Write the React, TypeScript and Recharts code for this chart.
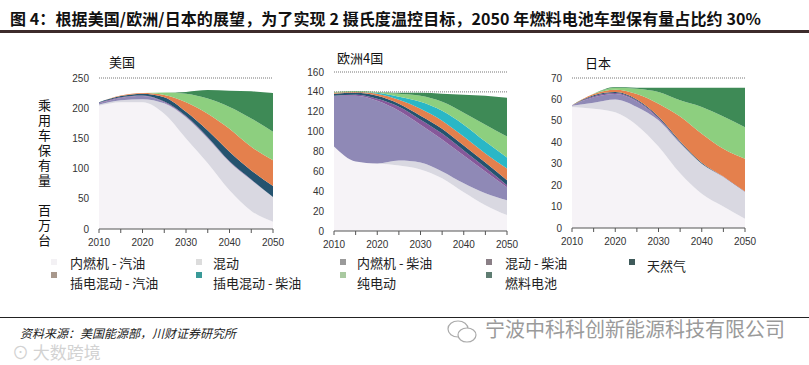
import { AreaChart, Area, XAxis, YAxis, ReferenceLine } from 'recharts';

const years = [2010, 2015, 2020, 2025, 2030, 2035, 2040, 2045, 2050];

const seriesNames = [
  '内燃机 - 汽油',
  '混动',
  '内燃机 - 柴油',
  '混动 - 柴油',
  '天然气',
  '插电混动 - 汽油',
  '插电混动 - 柴油',
  '纯电动',
  '燃料电池',
];

const areaColors = [
  '#f6f3f7',
  '#d9d8e1',
  '#8f89b6',
  '#86589a',
  '#25536f',
  '#e4804d',
  '#2ab7c6',
  '#8dcf7f',
  '#3e8a56',
];

// legend swatches look washed out in the source
const legendColors = [
  '#f3f1f4',
  '#dcdcdc',
  '#9a9a9a',
  '#8a7f86',
  '#3f5a5a',
  '#a8988c',
  '#3a9a98',
  '#a9c9a0',
  '#5f7d72',
];

// 美国
const usGasIce = [204, 210, 210, 191, 150, 109, 64, 30, 12];
const usHybrid = [2, 3, 5, 17, 35, 41, 47, 51, 41];
const usDieselIce = [2, 4, 5, 2, 1, 1, 0.5, 0.5, 0];
const usDieselHybrid = [1, 1, 1, 1, 1, 1, 0.5, 0.5, 0];
const usGas = [1, 2, 3, 7, 7, 11, 16, 15, 18];
const usPhevGas = [0, 1, 1, 4, 16, 28, 38, 39, 43];
const usPhevDiesel = [0, 0, 0, 0, 0, 0, 0, 0, 0];
const usBev = [0, 0, 0, 4, 14, 25, 36, 47, 47];
const usFcev = [0, 0, 0, 0, 3, 14, 27, 45, 64];

// 欧洲4国
const euGasIce = [85, 70, 68, 66, 62, 53, 39, 26, 16];
const euHybrid = [0, 0, 0, 5, 7, 7, 9, 12, 15];
const euDieselIce = [51, 66, 63, 50, 38, 32, 28, 22, 13];
const euDieselHybrid = [0, 1, 2, 4, 5, 6, 5, 4, 2];
const euGas = [2, 2, 3, 3, 4, 5, 5, 5, 5];
const euPhevGas = [1, 1, 2, 4, 7, 8, 9, 9, 12];
const euPhevDiesel = [0, 0, 1, 3, 7, 10, 12, 12, 11];
const euBev = [1, 1, 1, 3, 6, 9, 12, 17, 21];
const euFcev = [0, 0, 0, 1, 3, 8, 18, 29, 39];

// 日本
const jpGasIce = [56.5, 55.7, 54, 48, 38, 25.5, 16, 10, 4.3];
const jpHybrid = [0.5, 2.8, 6, 8.5, 12.3, 14, 14, 13.8, 12.5];
const jpDieselIce = [0.2, 2.5, 2.5, 2.5, 0.7, 0.5, 0, 0.2, 0.2];
const jpDieselHybrid = [0.1, 0.5, 0.5, 0.5, 0.5, 0, 0, 0, 0];
const jpGas = [0, 0.5, 0.5, 0.5, 0.5, 0.5, 0.5, 0, 0];
const jpPhevGas = [0, 0.5, 1, 2.5, 6, 11.5, 13.5, 13, 15.3];
const jpPhevDiesel = [0, 0, 0, 0, 0, 0, 0, 0, 0];
const jpBev = [0, 0.2, 1, 2.5, 5.5, 7.6, 12.5, 15, 14.7];
const jpFcev = [0, 0, 0.3, 0.5, 2, 5.9, 9, 13.5, 18.5];

const usTicks = [0, 50, 100, 150, 200, 250];
const euTicks = [0, 20, 40, 60, 80, 100, 120, 140, 160];
const jpTicks = [0, 10, 20, 30, 40, 50, 60, 70];

const axisFont = { fontSize: 10, fill: '#333', fontFamily: '"Liberation Sans", Arial, sans-serif' };
const cjk = '"Noto Sans CJK SC", "Noto Sans", sans-serif';

interface PanelProps {
  series: number[][];
  plotLeft: number;
  plotRight: number;
  plotTop: number;
  plotBottom: number;
  yMax: number;
  yTicks: number[];
  refLines: number[];
}

function Panel({ series, plotLeft, plotRight, plotTop, plotBottom, yMax, yTicks, refLines }: PanelProps) {
  const data = years.map((year, i) => {
    const row: Record<string, number> = { year };
    series.forEach((s, k) => {
      row['s' + k] = s[i];
    });
    return row;
  });
  const yw = 40;
  const mt = 10;
  const mr = 20;
  const xh = 30;
  const width = plotRight - plotLeft + yw + mr;
  const height = plotBottom - plotTop + mt + xh;
  return (
    <div style={{ position: 'absolute', left: plotLeft - yw, top: plotTop - mt }}>
      <AreaChart width={width} height={height} data={data} margin={{ top: mt, right: mr, bottom: 0, left: 0 }}>
        <XAxis
          dataKey="year"
          type="number"
          domain={[2010, 2050]}
          ticks={years}
          interval={0}
          tickFormatter={(v: number) => (v % 10 === 0 ? String(v) : '')}
          height={xh}
          axisLine={{ stroke: '#555' }}
          tickLine={{ stroke: '#555' }}
          tickSize={4}
          tickMargin={6}
          tick={axisFont}
        />
        <YAxis
          type="number"
          domain={[0, yMax]}
          ticks={yTicks}
          interval={0}
          width={yw}
          axisLine={false}
          tickLine={false}
          tickSize={0}
          tickMargin={10}
          tick={axisFont}
        />
        {series.map((_, k) => (
          <Area
            key={k}
            dataKey={'s' + k}
            name={seriesNames[k]}
            stackId="1"
            type="monotone"
            stroke="none"
            fill={areaColors[k]}
            fillOpacity={1}
            isAnimationActive={false}
          />
        ))}
        {refLines.map((v) => (
          <ReferenceLine key={v} y={v} stroke="#777" strokeDasharray="1 1" />
        ))}
      </AreaChart>
    </div>
  );
}

const legendCols = [
  { mx: 51, tx: 70 },
  { mx: 196, tx: 213 },
  { mx: 340, tx: 357 },
  { mx: 486, tx: 505 },
  { mx: 629, tx: 647 },
];
// row-major order as in the source legend
const legendSlots = [
  { col: 0, row: 0 },
  { col: 1, row: 0 },
  { col: 2, row: 0 },
  { col: 3, row: 0 },
  { col: 4, row: 0 },
  { col: 0, row: 1 },
  { col: 1, row: 1 },
  { col: 2, row: 1 },
  { col: 3, row: 1 },
];

function Legend() {
  return (
    <>
      {seriesNames.map((name, k) => {
        const slot = legendSlots[k];
        const c = legendCols[slot.col];
        const last = slot.col === 4;
        const markerY = slot.row === 0 ? 259 : 272;
        const textY = slot.row === 0 ? (last ? 266 : 263) : 283;
        return (
          <div key={k}>
            <div
              style={{
                position: 'absolute',
                left: c.mx,
                top: markerY,
                width: 6,
                height: 6,
                background: legendColors[k],
              }}
            />
            <div
              style={{
                position: 'absolute',
                left: c.tx,
                top: textY - 9,
                fontSize: 13,
                lineHeight: '18px',
                color: '#222',
                fontFamily: cjk,
                whiteSpace: 'nowrap',
              }}
            >
              {name}
            </div>
          </div>
        );
      })}
    </>
  );
}

export default function App() {
  const usSeries = [usGasIce, usHybrid, usDieselIce, usDieselHybrid, usGas, usPhevGas, usPhevDiesel, usBev, usFcev];
  const euSeries = [euGasIce, euHybrid, euDieselIce, euDieselHybrid, euGas, euPhevGas, euPhevDiesel, euBev, euFcev];
  const jpSeries = [jpGasIce, jpHybrid, jpDieselIce, jpDieselHybrid, jpGas, jpPhevGas, jpPhevDiesel, jpBev, jpFcev];

  const label = (text: string, left: number, cy: number) => (
    <div
      style={{
        position: 'absolute',
        left,
        top: cy - 10,
        fontSize: 13,
        lineHeight: '20px',
        color: '#111',
        fontFamily: cjk,
        whiteSpace: 'nowrap',
      }}
    >
      {text}
    </div>
  );

  return (
    <div
      style={{
        position: 'absolute',
        left: 0,
        top: 0,
        width: 809,
        height: 365,
        background: '#fff',
        overflow: 'hidden',
      }}
    >
      <div
        style={{
          position: 'absolute',
          left: 10,
          top: 7,
          fontSize: 16,
          lineHeight: '22px',
          fontWeight: 700,
          color: '#111',
          fontFamily: cjk,
          whiteSpace: 'nowrap',
          letterSpacing: 0.1,
        }}
      >
        图 4：根据美国/欧洲/日本的展望，为了实现 2 摄氏度温控目标，2050 年燃料电池车型保有量占比约 30%
      </div>
      <div style={{ position: 'absolute', left: 0, top: 30, width: 809, height: 3, background: '#3d2b2b' }} />

      {label('美国', 109, 62)}
      {label('欧洲4国', 337, 58)}
      {label('日本', 585, 63)}

      <div
        style={{
          position: 'absolute',
          left: 36,
          top: 99,
          writingMode: 'vertical-rl',
          fontSize: 13,
          letterSpacing: 2,
          color: '#111',
          fontFamily: cjk,
          lineHeight: '16px',
        }}
      >
        乘用车保有量
      </div>
      <div
        style={{
          position: 'absolute',
          left: 36,
          top: 204,
          writingMode: 'vertical-rl',
          fontSize: 13,
          letterSpacing: 2,
          color: '#111',
          fontFamily: cjk,
          lineHeight: '16px',
        }}
      >
        百万台
      </div>

      <Panel series={usSeries} plotLeft={99} plotRight={273} plotTop={78} plotBottom={229} yMax={250} yTicks={usTicks} refLines={[250]} />
      <Panel series={euSeries} plotLeft={334} plotRight={507} plotTop={72} plotBottom={231} yMax={160} yTicks={euTicks} refLines={[160, 140]} />
      <Panel series={jpSeries} plotLeft={572} plotRight={745} plotTop={78} plotBottom={228} yMax={70} yTicks={jpTicks} refLines={[70]} />

      <Legend />

      <div style={{ position: 'absolute', left: 0, top: 317, width: 809, height: 1, background: '#222' }} />
      <div
        style={{
          position: 'absolute',
          left: 20,
          top: 325,
          fontSize: 12,
          lineHeight: '16px',
          fontStyle: 'italic',
          color: '#222',
          fontFamily: cjk,
          whiteSpace: 'nowrap',
        }}
      >
        资料来源：美国能源部，川财证券研究所
      </div>
      <svg style={{ position: 'absolute', left: 446, top: 318 }} width={34} height={28}>
        <ellipse cx={12} cy={11} rx={10} ry={8} fill="none" stroke="#aaa" strokeWidth={1.2} />
        <ellipse cx={21} cy={17} rx={9} ry={7} fill="#fff" stroke="#aaa" strokeWidth={1.2} />
      </svg>
      <div
        style={{
          position: 'absolute',
          left: 485,
          top: 317,
          fontSize: 20,
          lineHeight: '24px',
          color: '#9a9a9a',
          fontFamily: cjk,
          whiteSpace: 'nowrap',
        }}
      >
        宁波中科科创新能源科技有限公司
      </div>
      <div
        style={{
          position: 'absolute',
          left: 12,
          top: 341,
          fontSize: 17,
          lineHeight: '22px',
          color: '#d2d2d2',
          fontFamily: cjk,
          whiteSpace: 'nowrap',
        }}
      >
        ⊙ 大数跨境
      </div>
    </div>
  );
}
